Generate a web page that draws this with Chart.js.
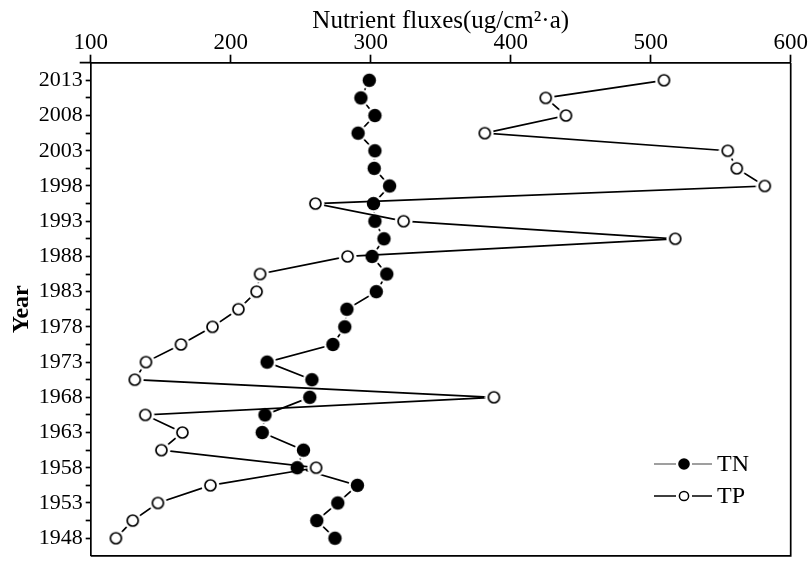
<!DOCTYPE html>
<html>
<head>
<meta charset="utf-8">
<script src="https://cdn.jsdelivr.net/npm/chart.js@4"></script>
<style>
  body { margin: 0; background: #fff; }
  #wrap { width: 811px; height: 572px; }
</style>
</head>
<body>
<div id="wrap"><canvas id="Chart"></canvas></div>
<script>
// sampling years (every 2.5 yr, top to bottom)
const years = [2013, 2010.5, 2008, 2005.5, 2003, 2000.5, 1998, 1995.5, 1993, 1990.5, 1988, 1985.5, 1983,
  1980.5, 1978, 1975.5, 1973, 1970.5, 1968, 1965.5, 1963, 1960.5, 1958, 1955.5, 1953, 1950.5, 1948];
const yearLabels = [2013, 2008, 2003, 1998, 1993, 1988, 1983, 1978, 1973, 1968, 1963, 1958, 1953, 1948];
const fluxTicks = [100, 200, 300, 400, 500, 600];

const tnValues = [299, 293, 303, 291, 303, 302.5, 313.5, 302, 303, 309.5, 301, 311.5, 304,
  283, 281.5, 273, 226, 258, 256.5, 224.5, 222.5, 252, 247.5, 290.5, 276.5, 261.5, 274.5];
const tpValues = [509.5, 425, 439.5, 381.5, 555, 561.5, 581.5, 260.5, 323.5, 517.5, 283.5, 221, 218.5,
  205.5, 187, 164.5, 139.5, 131.5, 388, 139, 165.5, 150.5, 261, 185.5, 148, 130, 118];

const FONT = 'Liberation Serif, Times New Roman, serif';

// marker images with a white halo round them
function makeMarker(filled) {
  const c = document.createElement('canvas');
  c.width = 19; c.height = 19;
  const g = c.getContext('2d');
  g.fillStyle = '#fff';
  g.beginPath(); g.arc(9.5, 9.5, 9, 0, Math.PI * 2); g.fill();
  g.beginPath();
  if (filled) {
    g.arc(9.5, 9.5, 6.7, 0, Math.PI * 2);
    g.fillStyle = '#000';
    g.fill();
  } else {
    g.arc(9.5, 9.5, 5.5, 0, Math.PI * 2);
    g.fillStyle = '#fff';
    g.fill();
    g.lineWidth = 1.7;
    g.strokeStyle = '#000';
    g.stroke();
  }
  return c;
}
const tnMarker = makeMarker(true);
const tpMarker = makeMarker(false);

const toPoints = (vals) => vals.map((v, i) => ({ x: v, y: years[i] }));

// frame + legend
const framePlugin = {
  id: 'frame',
  afterDraw(chart) {
    const { ctx, chartArea: a } = chart;
    ctx.save();
    ctx.strokeStyle = '#000';
    ctx.lineWidth = 1.7;
    ctx.beginPath();
    ctx.moveTo(a.left - 11, a.top);
    ctx.lineTo(a.left, a.top);
    ctx.moveTo(a.right, a.top);
    ctx.lineTo(a.right, a.bottom);
    ctx.lineTo(a.left, a.bottom);
    ctx.stroke();

    // legend
    const rows = [
      { label: 'TN', color: '#808080', filled: true, y: 464 },
      { label: 'TP', color: '#000', filled: false, y: 496 }
    ];
    rows.forEach(r => {
      ctx.strokeStyle = r.color;
      ctx.lineWidth = 1.7;
      ctx.beginPath();
      ctx.moveTo(654, r.y); ctx.lineTo(676, r.y);
      ctx.moveTo(692, r.y); ctx.lineTo(712, r.y);
      ctx.stroke();
      ctx.beginPath();
      if (r.filled) {
        ctx.arc(684, r.y, 5.8, 0, Math.PI * 2);
        ctx.fillStyle = '#000';
        ctx.fill();
      } else {
        ctx.arc(684, r.y, 4.6, 0, Math.PI * 2);
        ctx.fillStyle = '#fff';
        ctx.fill();
        ctx.lineWidth = 1.5;
        ctx.strokeStyle = '#000';
        ctx.stroke();
      }
      ctx.fillStyle = '#000';
      ctx.font = '24px ' + FONT;
      ctx.textBaseline = 'middle';
      ctx.fillText(r.label, 717, r.y + 1);
    });
    ctx.restore();
  }
};

new Chart(document.getElementById('Chart'), {
  type: 'line',
  data: {
    datasets: [{
      label: 'TN',
      data: toPoints(tnValues),
      borderColor: '#000',
      borderWidth: 1.7,
      pointStyle: tnMarker,
      pointRadius: 7,
      tension: 0,
      order: 1
    }, {
      label: 'TP',
      data: toPoints(tpValues),
      borderColor: '#000',
      borderWidth: 1.7,
      pointStyle: tpMarker,
      pointRadius: 7,
      tension: 0,
      order: 0
    }]
  },
  options: {
    responsive: true,
    maintainAspectRatio: false,
    animation: false,
    layout: { padding: { left: 0, top: 0, right: 20.3, bottom: 2 } },
    plugins: { legend: { display: false }, tooltip: { enabled: false } },
    scales: {
      x: {
        type: 'linear',
        position: 'top',
        min: 100,
        max: 600,
        afterBuildTicks: (scale) => { scale.ticks = fluxTicks.map(v => ({ value: v })); },
        afterFit: (scale) => { scale.height = 62.7; },
        ticks: { color: '#000', font: { family: FONT, size: 23 }, padding: -2, maxRotation: 0 },
        grid: { drawOnChartArea: false, drawTicks: true, tickLength: 8, tickColor: '#000', tickWidth: 1.7 },
        border: { display: true, color: '#000', width: 1.7 },
        title: {
          display: true,
          text: 'Nutrient fluxes(ug/cm²·a)',
          color: '#000',
          font: { family: FONT, size: 25 },
          padding: { top: 6 }
        }
      },
      y: {
        type: 'linear',
        min: 1945.5,
        max: 2015.5,
        afterBuildTicks: (scale) => { scale.ticks = years.map(v => ({ value: v })); },
        afterFit: (scale) => { scale.width = 90.7; },
        ticks: {
          color: '#000',
          font: { family: FONT, size: 22 },
          padding: 3,
          autoSkip: false,
          callback: (v) => yearLabels.includes(v) ? String(v) : ''
        },
        grid: { drawOnChartArea: false, drawTicks: true, tickLength: 5, tickColor: '#000', tickWidth: 1.7 },
        border: { display: true, color: '#000', width: 1.7 },
        title: {
          display: true,
          text: 'Year',
          color: '#000',
          font: { family: FONT, size: 24, weight: 'bold' },
          padding: { top: 7 }
        }
      }
    }
  },
  plugins: [framePlugin]
});
</script>
</body>
</html>
